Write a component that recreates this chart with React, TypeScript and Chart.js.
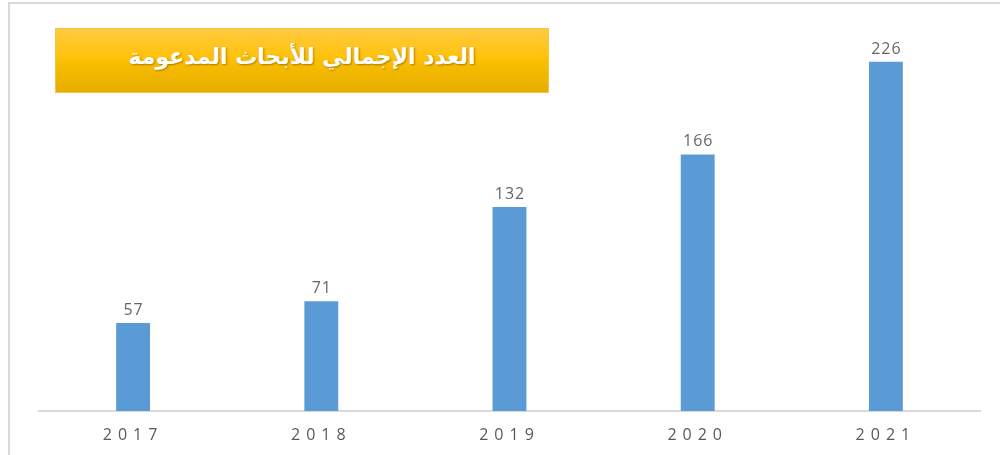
import React, { useEffect, useRef } from "react";
import { Chart, registerables } from "chart.js";

Chart.register(...registerables);

const years: string[] = ["2017", "2018", "2019", "2020", "2021"];
const researchCounts: number[] = [57, 71, 132, 166, 226];
const titleText = "العدد الإجمالي للأبحاث المدعومة";

const barColor = "#5b9bd5";
const textGray = "#595959";

export default function App() {
  const canvasRef = useRef<HTMLCanvasElement | null>(null);

  useEffect(() => {
    document.body.style.margin = "0";
    const canvas = canvasRef.current;
    if (!canvas) return;

    const tickSpacingPlugin = {
      id: "tickSpacing",
      beforeDraw(chart: any) {
        chart.ctx.letterSpacing = "6px";
      },
      beforeDatasetsDraw(chart: any) {
        chart.ctx.letterSpacing = "0px";
      },
    };

    const valueLabels = {
      id: "valueLabels",
      afterDatasetsDraw(chart: any) {
        const ctx = chart.ctx;
        const meta = chart.getDatasetMeta(0);
        ctx.save();
        ctx.letterSpacing = "1px";
        ctx.font = "16px 'Open Sans', sans-serif";
        ctx.fillStyle = "#666666";
        ctx.textAlign = "center";
        ctx.textBaseline = "alphabetic";
        meta.data.forEach((bar: any, i: number) => {
          ctx.fillText(String(chart.data.datasets[0].data[i]), bar.x + 0.5, bar.y - 8);
        });
        ctx.restore();
      },
    };

    const chart = new Chart(canvas, {
      type: "bar",
      data: {
        labels: years,
        datasets: [
          {
            data: researchCounts,
            backgroundColor: barColor,
            barPercentage: 0.36,
            categoryPercentage: 0.5,
          },
        ],
      },
      options: {
        animation: false,
        responsive: false,
        maintainAspectRatio: false,
        layout: { padding: { left: 39, right: 20, top: 40, bottom: 0 } },
        plugins: {
          legend: { display: false },
          tooltip: { enabled: false },
          title: { display: false },
        },
        scales: {
          x: {
            grid: { display: false },
            border: { display: true, color: "#d9d9d9", width: 2 },
            ticks: {
              color: textGray,
              font: { family: "'Open Sans', sans-serif", size: 16 },
              padding: 7,
            },
            afterFit(scale: any) {
              scale.height = 44;
            },
          },
          y: {
            display: false,
            min: 0,
            max: 240,
          },
        },
      },
      plugins: [tickSpacingPlugin, valueLabels],
    });

    return () => chart.destroy();
  }, []);

  return (
    <div style={{ position: "relative", width: 1000, height: 455, background: "#fff", overflow: "hidden" }}>
      <div
        style={{
          position: "absolute",
          left: 8,
          top: 2,
          width: 992,
          height: 453,
          borderLeft: "2px solid #d9d9d9",
          borderTop: "2px solid #d9d9d9",
          boxSizing: "border-box",
        }}
      />
      <canvas ref={canvasRef} width={1000} height={455} style={{ position: "absolute", left: 0, top: 0 }} />
      <div
        style={{
          position: "absolute",
          left: 55,
          top: 28,
          width: 494,
          height: 65,
          boxSizing: "border-box",
          border: "1px solid #f7c44a",
          background: "linear-gradient(to bottom, #ffca40 0%, #ffc20a 45%, #f5bb00 60%, #e6ad00 100%)",
          display: "flex",
          alignItems: "center",
          justifyContent: "center",
          paddingBottom: 8,
        }}
      >
        <span
          dir="rtl"
          style={{
            color: "#ffffff",
            fontFamily: "'DejaVu Sans', sans-serif",
            fontWeight: "bold",
            fontSize: 22,
            textShadow: "1px 1px 2px rgba(120,80,0,0.6)",
          }}
        >
          {titleText}
        </span>
      </div>
    </div>
  );
}
